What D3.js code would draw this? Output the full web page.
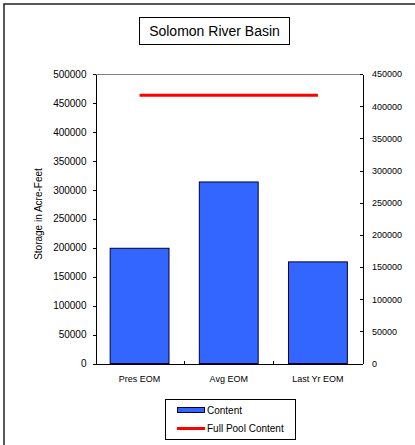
<!DOCTYPE html>
<html lang="en">
<head>
<meta charset="UTF-8">
<title>Solomon River Basin</title>
<script src="https://d3js.org/d3.v7.min.js"></script>
<style>
    body { margin: 0; background: #fff; }
    svg { display: block; font-family: "Liberation Sans", Arial, sans-serif; }
    .axis text { font-size: 10px; fill: #000; }
    .axis path, .axis line { stroke: #000; shape-rendering: crispEdges; }
</style>
</head>
<body>
<svg id="chart" width="415" height="445"></svg>
<script>
    // data
    var categories = ['Pres EOM', 'Avg EOM', 'Last Yr EOM'];
    var contentValues = [199000, 313500, 175500];
    var fullPoolValues = [463500, 463500, 463500];
    var leftTicks = [0, 50000, 100000, 150000, 200000, 250000, 300000, 350000, 400000, 450000, 500000];
    var rightTicks = [0, 50000, 100000, 150000, 200000, 250000, 300000, 350000, 400000, 450000];

    var svg = d3.select('#chart');

    // outer chart frame (right and bottom run off the picture)
    svg.append('rect')
        .attr('x', 4).attr('y', 4)
        .attr('width', 430).attr('height', 460)
        .attr('fill', 'none')
        .attr('stroke', '#222')
        .attr('stroke-width', 1.5);

    var plot = { left: 95, right: 362.5, top: 74, bottom: 363.5 };

    var xScale = d3.scaleBand()
        .domain(categories)
        .range([plot.left, plot.right])
        .paddingInner(0.34)
        .paddingOuter(0.17);

    var yLeft = d3.scaleLinear().domain([0, 500000]).range([plot.bottom, plot.top]);
    var yRight = d3.scaleLinear().domain([0, 450000]).range([plot.bottom, plot.top]);

    // title box
    svg.append('rect')
        .attr('x', 139.5).attr('y', 17.5)
        .attr('width', 150).attr('height', 27)
        .attr('fill', '#fff').attr('stroke', '#000');
    svg.append('text')
        .attr('x', 214.5).attr('y', 36)
        .attr('text-anchor', 'middle')
        .style('font-size', '14px')
        .text('Solomon River Basin');

    // bars
    svg.selectAll('.bar')
        .data(contentValues)
        .enter()
        .append('rect')
        .attr('class', 'bar')
        .attr('x', (d, i) => xScale(categories[i]))
        .attr('y', d => yLeft(d))
        .attr('width', xScale.bandwidth())
        .attr('height', d => plot.bottom - yLeft(d))
        .attr('fill', '#3366FF')
        .attr('stroke', '#000033')
        .attr('stroke-width', 1);

    // full pool line
    var line = d3.line()
        .x((d, i) => xScale(categories[i]) + xScale.bandwidth() / 2)
        .y(d => yLeft(d));
    svg.append('path')
        .datum(fullPoolValues)
        .attr('d', line)
        .attr('fill', 'none')
        .attr('stroke', '#FF0000')
        .attr('stroke-width', 3);

    // plot frame
    svg.append('line')
        .attr('x1', plot.left).attr('x2', plot.right)
        .attr('y1', plot.top + 0.5).attr('y2', plot.top + 0.5)
        .attr('stroke', '#808080');

    // left axis
    svg.append('g')
        .attr('class', 'axis')
        .attr('transform', 'translate(' + (plot.left + 0.5) + ',0)')
        .call(d3.axisLeft(yLeft).tickValues(leftTicks).tickSize(3).tickSizeOuter(0).tickPadding(6).tickFormat(d3.format('d')));

    // right axis, ticks inside
    var rightAxis = svg.append('g')
        .attr('class', 'axis')
        .attr('transform', 'translate(' + (plot.right + 0.5) + ',0)')
        .call(d3.axisRight(yRight).tickValues(rightTicks).tickSize(-3).tickSizeOuter(0).tickPadding(9).tickFormat(d3.format('d')));
    rightAxis.selectAll('text').style('font-size', '9px');

    // bottom axis, ticks at category boundaries
    var bottom = svg.append('g')
        .attr('class', 'axis')
        .attr('transform', 'translate(0,' + (plot.bottom + 0.5) + ')');
    bottom.append('line')
        .attr('x1', plot.left).attr('x2', plot.right + 0.5)
        .attr('y1', 0).attr('y2', 0);
    var step = (plot.right - plot.left) / categories.length;
    bottom.selectAll('.sep')
        .data(categories.slice(1))
        .enter()
        .append('line')
        .attr('x1', (d, i) => Math.round(plot.left + step * (i + 1)) + 0.5)
        .attr('x2', (d, i) => Math.round(plot.left + step * (i + 1)) + 0.5)
        .attr('y1', 0).attr('y2', -3);
    bottom.selectAll('.cat')
        .data(categories)
        .enter()
        .append('text')
        .attr('x', d => xScale(d) + xScale.bandwidth() / 2)
        .attr('y', 18)
        .attr('text-anchor', 'middle')
        .style('font-size', '9px')
        .text(d => d);

    // y axis title
    svg.append('text')
        .attr('transform', 'rotate(-90)')
        .attr('x', -214)
        .attr('y', 42)
        .attr('text-anchor', 'middle')
        .style('font-size', '10px')
        .text('Storage in Acre-Feet');

    // legend
    var legend = svg.append('g');
    legend.append('rect')
        .attr('x', 165.5).attr('y', 399.5)
        .attr('width', 130).attr('height', 40)
        .attr('fill', '#fff').attr('stroke', '#000');
    legend.append('rect')
        .attr('x', 177.5).attr('y', 407.5)
        .attr('width', 27).attr('height', 5)
        .attr('fill', '#3366FF').attr('stroke', '#000033');
    legend.append('text')
        .attr('x', 207).attr('y', 414)
        .style('font-size', '10px')
        .text('Content');
    legend.append('line')
        .attr('x1', 177).attr('x2', 205)
        .attr('y1', 428.5).attr('y2', 428.5)
        .attr('stroke', '#FF0000').attr('stroke-width', 3);
    legend.append('text')
        .attr('x', 207).attr('y', 432)
        .style('font-size', '10px')
        .text('Full Pool Content');
</script>
</body>
</html>
